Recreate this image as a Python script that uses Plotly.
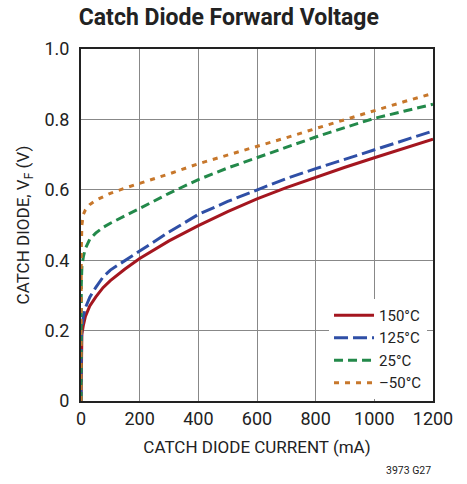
import plotly.graph_objects as go

current_ma = [0, 0.2, 1, 3, 8, 15, 30, 50, 75, 100, 150, 200, 300, 400, 500, 600, 700, 800, 900, 1000, 1100, 1200]
vf_150c = [0, 0.08, 0.15, 0.19, 0.215, 0.24, 0.27, 0.295, 0.322, 0.342, 0.375, 0.405, 0.455, 0.498, 0.538, 0.574, 0.606, 0.636, 0.664, 0.691, 0.718, 0.744]
vf_125c = [0, 0.10, 0.17, 0.21, 0.24, 0.265, 0.295, 0.322, 0.352, 0.372, 0.40, 0.426, 0.48, 0.53, 0.567, 0.60, 0.632, 0.66, 0.687, 0.712, 0.74, 0.767]
vf_25c = [0, 0.25, 0.33, 0.38, 0.41, 0.433, 0.46, 0.477, 0.493, 0.505, 0.527, 0.547, 0.59, 0.629, 0.662, 0.691, 0.722, 0.75, 0.777, 0.803, 0.823, 0.843]
vf_m50c = [0, 0.30, 0.43, 0.50, 0.53, 0.543, 0.558, 0.57, 0.58, 0.59, 0.605, 0.618, 0.645, 0.674, 0.698, 0.722, 0.748, 0.774, 0.80, 0.824, 0.85, 0.874]
series_names = ["150°C", "125°C", "25°C", "–50°C"]
x_ticks = [0, 200, 400, 600, 800, 1000, 1200]
y_ticks = [0, 0.2, 0.4, 0.6, 0.8, 1.0]
y_tick_labels = ["0", "0.2", "0.4", "0.6", "0.8", "1.0"]

FONT = "Roboto, Liberation Sans, sans-serif"
styles = [
    ("#A4161F", "solid"),
    ("#2F4FA6", "14px,5px"),
    ("#23894A", "9px,5px"),
    ("#C7772B", "5px,6px"),
]

fig = go.Figure()
for name, ys, (color, dash) in zip(series_names, [vf_150c, vf_125c, vf_25c, vf_m50c], styles):
    fig.add_trace(go.Scatter(x=current_ma, y=ys, name=name, mode="lines",
                             line=dict(color=color, width=3, dash=dash)))

fig.update_layout(
    width=467, height=484,
    margin=dict(l=81, r=34, t=49, b=83),
    paper_bgcolor="white", plot_bgcolor="white",
    font=dict(family=FONT, size=18, color="#222"),
    title=dict(text="<b>Catch Diode Forward Voltage</b>", x=0.49, xanchor="center",
               y=0.965, yanchor="middle", font=dict(family=FONT, size=23, color="#222")),
    showlegend=True,
    legend=dict(x=0.983, xanchor="right", y=0.006, yanchor="bottom",
                bgcolor="white", borderwidth=0, font=dict(family=FONT, size=15, color="#222"),
                tracegroupgap=0, itemwidth=40),
)
fig.update_xaxes(range=[0, 1200], tickvals=x_ticks, showgrid=True, gridcolor="#888", gridwidth=1.3,
                 showline=True, linecolor="#222", linewidth=2, mirror=True, zeroline=False,
                 ticks="", ticklabelstandoff=0, automargin=False,
                 title=dict(text="CATCH DIODE CURRENT (mA)", standoff=14, font=dict(size=17)))
fig.update_yaxes(range=[0, 1.0], tickvals=y_ticks, ticktext=y_tick_labels, showgrid=True,
                 gridcolor="#888", gridwidth=1.3,
                 showline=True, linecolor="#222", linewidth=2, mirror=True, zeroline=False,
                 ticks="", ticklabelstandoff=6, automargin=False,
                 title=dict(text="CATCH DIODE, V<sub>F</sub> (V)", standoff=10, font=dict(size=17)))
fig.add_annotation(text="3973 G27", xref="paper", yref="paper", x=1.0, y=-0.198, xanchor="right",
                   yanchor="middle", showarrow=False, font=dict(family=FONT, size=10.5, color="#222"))
fig.write_html("out.html", config={"displayModeBar": False},
               post_script="document.body.style.margin='0';")
